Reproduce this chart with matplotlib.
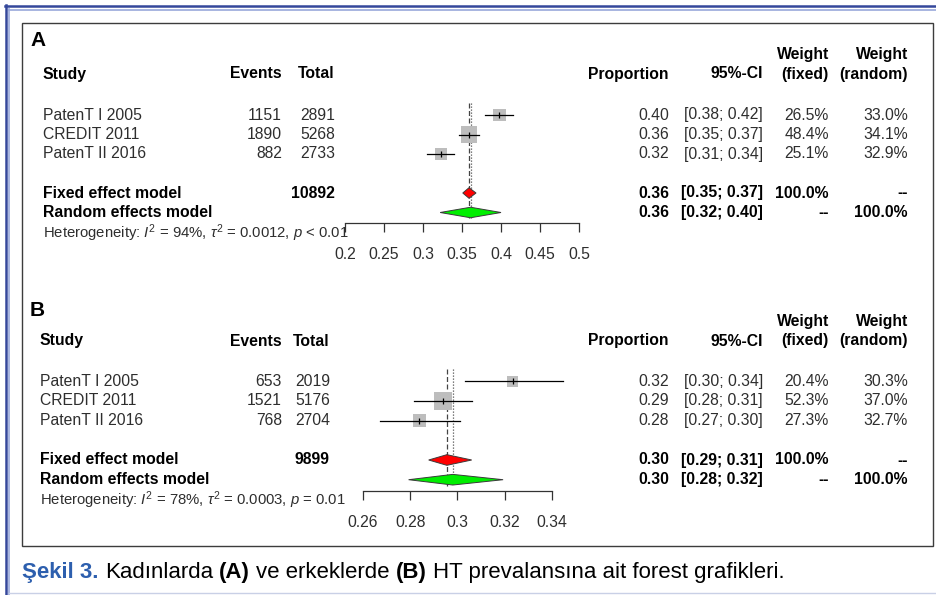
#!/usr/bin/env python3
"""
Forest plots of hypertension prevalence (A: women, B: men), meta-style layout.
"""
import numpy as np
import matplotlib
matplotlib.use('Agg')  # Non-interactive backend
import matplotlib.pyplot as plt
from matplotlib.patches import Polygon, Rectangle
from matplotlib.lines import Line2D

W, H = 937, 595

plt.rcParams['font.family'] = ['Liberation Sans', 'DejaVu Sans']
plt.rcParams['mathtext.fontset'] = 'custom'
plt.rcParams['mathtext.rm'] = 'Liberation Sans'
plt.rcParams['mathtext.it'] = 'Liberation Sans:italic'
plt.rcParams['mathtext.bf'] = 'Liberation Sans:bold'

# ---- data -------------------------------------------------------------
studies = ['PatenT I 2005', 'CREDIT 2011', 'PatenT II 2016']

# Panel A (women)
events_a = [1151, 1890, 882]
total_a = [2891, 5268, 2733]
est_a = [0.398, 0.359, 0.323]
lo_a = [0.380, 0.346, 0.305]
hi_a = [0.416, 0.372, 0.340]
prop_txt_a = ['0.40', '0.36', '0.32']
ci_txt_a = ['[0.38; 0.42]', '[0.35; 0.37]', '[0.31; 0.34]']
w_fixed_a = [26.5, 48.4, 25.1]
w_random_a = [33.0, 34.1, 32.9]
fixed_a = [0.359, 0.351, 0.368]    # estimate, lower, upper
random_a = [0.361, 0.322, 0.400]
fixed_txt_a = ['0.36', '[0.35; 0.37]']
random_txt_a = ['0.36', '[0.32; 0.40]']
n_total_a = 10892
het_a = r'Heterogeneity: $I^2$ = 94%, $\tau^2$ = 0.0012, $p$ < 0.01'
ticks_a = [0.2, 0.25, 0.3, 0.35, 0.4, 0.45, 0.5]

# Panel B (men)
events_b = [653, 1521, 768]
total_b = [2019, 5176, 2704]
est_b = [0.3234, 0.2938, 0.2839]
lo_b = [0.3030, 0.2815, 0.2670]
hi_b = [0.3445, 0.3063, 0.3012]
prop_txt_b = ['0.32', '0.29', '0.28']
ci_txt_b = ['[0.30; 0.34]', '[0.28; 0.31]', '[0.27; 0.30]']
w_fixed_b = [20.4, 52.3, 27.3]
w_random_b = [30.3, 37.0, 32.7]
fixed_b = [0.2955, 0.2878, 0.3060]
random_b = [0.2980, 0.2793, 0.3193]
fixed_txt_b = ['0.30', '[0.29; 0.31]']
random_txt_b = ['0.30', '[0.28; 0.32]']
n_total_b = 9899
het_b = r'Heterogeneity: $I^2$ = 78%, $\tau^2$ = 0.0003, $p$ = 0.01'
ticks_b = [0.26, 0.28, 0.3, 0.32, 0.34]

FS = 11.3
GREY_TXT = '#2e2e2e'


def px_text(fig, x, y, s, ha='left', bold=False, size=FS, color=GREY_TXT, **kw):
    """Place text using pixel coordinates (origin top-left)."""
    return fig.text(x / W, 1 - y / H, s, ha=ha, va='center',
                    fontsize=size, fontweight='bold' if bold else 'normal',
                    color='black' if bold else color, **kw)


def draw_panel(fig, letter, lay, d):
    """Draw one forest plot panel. lay = pixel layout, d = data dict."""
    r0, step = lay['r0'], lay['step']
    row_y = lambda r: r0 + step * r

    px_text(fig, 30, lay['letter_y'], letter, bold=True, size=15)

    # header
    hy = lay['header_y']
    px_text(fig, lay['study_x'], hy, 'Study', bold=True)
    px_text(fig, 282, hy, 'Events', ha='right', bold=True)
    px_text(fig, lay['total_x'], hy, 'Total', ha='right', bold=True)
    px_text(fig, 669, hy, 'Proportion', ha='right', bold=True)
    px_text(fig, 763, hy, '95%-CI', ha='right', bold=True)
    px_text(fig, 829, hy - 19.5, 'Weight', ha='right', bold=True)
    px_text(fig, 829, hy, '(fixed)', ha='right', bold=True)
    px_text(fig, 908, hy - 19.5, 'Weight', ha='right', bold=True)
    px_text(fig, 908, hy, '(random)', ha='right', bold=True)

    # study rows
    for i, name in enumerate(studies):
        y = row_y(i + 1)
        px_text(fig, lay['study_x'], y, name)
        px_text(fig, 282, y, str(d['events'][i]), ha='right')
        px_text(fig, lay['total_x'], y, str(d['total'][i]), ha='right')
        px_text(fig, 669, y, d['prop_txt'][i], ha='right')
        px_text(fig, 763, y, d['ci_txt'][i], ha='right')
        px_text(fig, 829, y, f"{d['w_fixed'][i]:.1f}%", ha='right')
        px_text(fig, 908, y, f"{d['w_random'][i]:.1f}%", ha='right')

    # pooled rows
    yf, yr = row_y(5), row_y(6)
    px_text(fig, lay['study_x'], yf, 'Fixed effect model', bold=True)
    px_text(fig, lay['total_x'], yf, str(d['n_total']), ha='right', bold=True)
    px_text(fig, 669, yf, d['fixed_txt'][0], ha='right', bold=True)
    px_text(fig, 763, yf, d['fixed_txt'][1], ha='right', bold=True)
    px_text(fig, 829, yf, '100.0%', ha='right', bold=True)
    px_text(fig, 908, yf, '--', ha='right', bold=True)
    px_text(fig, lay['study_x'], yr, 'Random effects model', bold=True)
    px_text(fig, 669, yr, d['random_txt'][0], ha='right', bold=True)
    px_text(fig, 763, yr, d['random_txt'][1], ha='right', bold=True)
    px_text(fig, 829, yr, '--', ha='right', bold=True)
    px_text(fig, 908, yr, '100.0%', ha='right', bold=True)
    px_text(fig, lay['study_x'], lay['het_y'], d['het'], size=10.7)

    # forest axes, bottom spine = R style axis
    left, right, axis_y = lay['ax_left'], lay['ax_right'], lay['axis_y']
    ax = fig.add_axes([left / W, 1 - axis_y / H, (right - left) / W, (axis_y - r0) / H])
    ax.set_xlim(d['ticks'][0], d['ticks'][-1])
    ax.set_ylim((axis_y - r0) / step, 0)
    ax.patch.set_visible(False)
    for s in ['top', 'left', 'right']:
        ax.spines[s].set_visible(False)
    ax.spines['bottom'].set_color('#333333')
    ax.spines['bottom'].set_linewidth(0.9)
    ax.set_yticks([])
    ax.set_xticks(d['ticks'])
    ax.set_xticklabels([f'{t:g}' for t in d['ticks']])
    ax.tick_params(axis='x', direction='out', length=6.5, width=0.9, color='#333333',
                   labelsize=FS, labelcolor=GREY_TXT, pad=11)

    # reference lines (fixed dashed, random dotted)
    ax.plot([d['fixed'][0]] * 2, [0.4, 6.3], color='#444444', lw=0.9, ls=(0, (4, 2)), zorder=1)
    ax.plot([d['random'][0]] * 2, [0.4, 6.3], color='#555555', lw=0.9, ls=(0, (1, 1.4)), zorder=1)

    rows = np.arange(1, len(studies) + 1)
    sizes = (2.4 * np.sqrt(d['w_fixed']) * 0.72) ** 2
    ax.scatter(d['est'], rows, marker='s', s=sizes, color='#bdbdbd', edgecolors='none',
               zorder=2, clip_on=False)
    for r, lo, hi in zip(rows, d['lo'], d['hi']):
        ax.plot([lo, hi], [r, r], color='black', lw=0.9, zorder=3, clip_on=False)
    ax.plot(d['est'], rows, ls='none', marker='|', ms=4.5, mew=0.9, color='black', zorder=4)

    # pooled diamonds
    h = 0.27
    for (est, lo, hi), y, col in [(d['fixed'], 5, '#ff0000'), (d['random'], 6, '#00ee00')]:
        ax.add_patch(Polygon([(lo, y), (est, y - h), (hi, y), (est, y + h)], closed=True,
                             facecolor=col, edgecolor='#3a3a3a', lw=0.7, zorder=5, clip_on=False))


def draw_frame(fig):
    """Outer journal frame, inner box and caption."""
    def hline(y, x0, x1, c, lw):
        fig.add_artist(Line2D([x0 / W, x1 / W], [1 - y / H] * 2, color=c, lw=lw))

    def vline(x, y0, y1, c, lw):
        fig.add_artist(Line2D([x / W] * 2, [1 - y0 / H, 1 - y1 / H], color=c, lw=lw))

    hline(6, 5, W, '#34479b', 1.8)
    hline(9.5, 9, W, '#98a8da', 1.2)
    vline(6, 5, H, '#34479b', 1.8)
    vline(9.5, 9, H, '#98a8da', 1.2)
    hline(593, 9, W, '#c9d0e6', 1.0)

    fig.add_artist(Rectangle((22 / W, 1 - 546 / H), (933 - 22) / W, (546 - 23) / H,
                             transform=fig.transFigure, fill=False, edgecolor='#3c3c3c', lw=1.0))

    # caption, assembled piece by piece
    pieces = [('Şekil 3.', 'bold', '#2d5fae'), ('Kadınlarda', 'normal', 'black'),
              ('(A)', 'bold', 'black'), ('ve erkeklerde', 'normal', 'black'),
              ('(B)', 'bold', 'black'), ('HT prevalansına ait forest grafikleri.', 'normal', 'black')]
    size = 16
    gap = 0.278 * size / 72 * 100
    renderer = fig.canvas.get_renderer()
    x = 22
    for s, wt, c in pieces:
        t = fig.text(x / W, 1 - 578 / H, s, ha='left', va='baseline', fontsize=size,
                     fontweight=wt, color=c)
        bb = t.get_window_extent(renderer)
        x = bb.x1 + gap


if __name__ == '__main__':
    fig = plt.figure(figsize=(W / 100, H / 100), dpi=100)
    fig.patch.set_facecolor('white')

    data_a = dict(events=events_a, total=total_a, est=est_a, lo=lo_a, hi=hi_a,
                  prop_txt=prop_txt_a, ci_txt=ci_txt_a, w_fixed=w_fixed_a, w_random=w_random_a,
                  fixed=fixed_a, random=random_a, fixed_txt=fixed_txt_a, random_txt=random_txt_a,
                  n_total=n_total_a, het=het_a, ticks=ticks_a)
    data_b = dict(events=events_b, total=total_b, est=est_b, lo=lo_b, hi=hi_b,
                  prop_txt=prop_txt_b, ci_txt=ci_txt_b, w_fixed=w_fixed_b, w_random=w_random_b,
                  fixed=fixed_b, random=random_b, fixed_txt=fixed_txt_b, random_txt=random_txt_b,
                  n_total=n_total_b, het=het_b, ticks=ticks_b)

    lay_a = dict(r0=95.5, step=19.5, letter_y=40, header_y=74, study_x=43, total_x=335,
                 het_y=233, ax_left=345, ax_right=579, axis_y=222.7)
    lay_b = dict(r0=361.5, step=19.7, letter_y=310, header_y=341, study_x=40, total_x=330,
                 het_y=500, ax_left=363, ax_right=552, axis_y=491)

    draw_panel(fig, 'A', lay_a, data_a)
    draw_panel(fig, 'B', lay_b, data_b)
    draw_frame(fig)

    plt.savefig('out.png', dpi=100)
    plt.close()
